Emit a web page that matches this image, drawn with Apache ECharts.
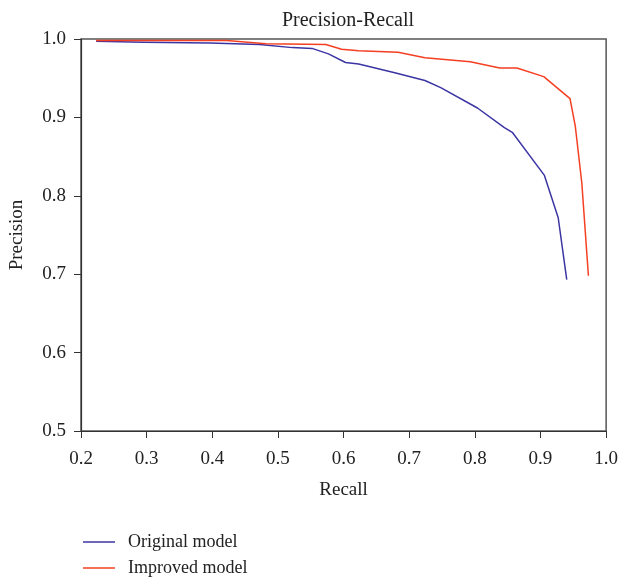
<!DOCTYPE html>
<html>
<head>
<meta charset="utf-8">
<script src="https://cdn.jsdelivr.net/npm/echarts@6/dist/echarts.min.js"></script>
<style>
  html, body { margin: 0; padding: 0; background: #fff; }
  #chart { width: 621px; height: 578px; }
</style>
</head>
<body>
<div id="chart"></div>
<script>
// recall / precision pairs
const originalRecall = [0.223, 0.295, 0.396, 0.472, 0.522, 0.552, 0.577, 0.603, 0.623, 0.678, 0.724, 0.748, 0.804, 0.845, 0.857, 0.906, 0.927, 0.940];
const originalPrecision = [0.997, 0.996, 0.995, 0.993, 0.989, 0.988, 0.981, 0.970, 0.968, 0.957, 0.947, 0.938, 0.912, 0.887, 0.881, 0.826, 0.772, 0.693];

const improvedRecall = [0.223, 0.422, 0.482, 0.573, 0.597, 0.623, 0.683, 0.724, 0.793, 0.838, 0.864, 0.905, 0.945, 0.953, 0.963, 0.973];
const improvedPrecision = [0.998, 0.998, 0.994, 0.993, 0.987, 0.985, 0.983, 0.976, 0.971, 0.963, 0.963, 0.952, 0.924, 0.889, 0.816, 0.698];

const seriesNames = ["Original model", "Improved model"];
const seriesColors = ["#3b35a3", "#f53f22"];

function pairs(xs, ys) {
  return xs.map((x, i) => [x, ys[i]]);
}

let dom = document.getElementById("chart");
let myChart = echarts.init(dom, null, { renderer: "canvas" });

const serif = "Liberation Serif";
const axisText = { color: "#222", fontFamily: serif, fontSize: 19 };

// one legend per row, stacked under the chart
function legendRow(name, top) {
  return {
    left: 78,
    top: top,
    icon: "rect",
    itemWidth: 32,
    itemHeight: 1.5,
    textStyle: { color: "#222", fontFamily: serif, fontSize: 18, padding: [0, 0, 0, 8] },
    data: [name],
  };
}

let option = {
  animation: false,
  title: {
    text: "Precision-Recall",
    left: 343,
    textAlign: "center",
    top: 6,
    textStyle: { color: "#222", fontFamily: serif, fontSize: 20, fontWeight: "normal" },
  },
  grid: {
    left: 80,
    right: 14,
    top: 39,
    bottom: 147,
    show: true,
    borderColor: "#555",
    borderWidth: 1.5,
  },
  legend: [legendRow(seriesNames[0], 528), legendRow(seriesNames[1], 554)],
  xAxis: {
    type: "value",
    min: 0.2,
    max: 1.0,
    interval: 0.1,
    name: "Recall",
    nameLocation: "middle",
    nameGap: 50,
    nameTextStyle: axisText,
    axisLine: { lineStyle: { color: "#333", width: 1.2 } },
    axisTick: { length: 7, lineStyle: { color: "#333" } },
    axisLabel: Object.assign({ margin: 19, formatter: (v) => v.toFixed(1) }, axisText),
    splitLine: { show: false },
  },
  yAxis: {
    type: "value",
    min: 0.5,
    max: 1.0,
    interval: 0.1,
    name: "Precision",
    nameLocation: "middle",
    nameGap: 54,
    nameTextStyle: axisText,
    axisLine: { show: true, lineStyle: { color: "#333", width: 1.2 } },
    axisTick: { show: true, length: 7, lineStyle: { color: "#333" } },
    axisLabel: Object.assign({ margin: 15, formatter: (v) => v.toFixed(1) }, axisText),
    splitLine: { show: false },
  },
  series: [
    {
      name: seriesNames[0],
      type: "line",
      symbol: "none",
      data: pairs(originalRecall, originalPrecision),
      lineStyle: { color: seriesColors[0], width: 1.5 },
      itemStyle: { color: seriesColors[0] },
    },
    {
      name: seriesNames[1],
      type: "line",
      symbol: "none",
      data: pairs(improvedRecall, improvedPrecision),
      lineStyle: { color: seriesColors[1], width: 1.5 },
      itemStyle: { color: seriesColors[1] },
    },
  ],
};

myChart.setOption(option);

window.addEventListener("resize", function () {
  if (myChart) {
    myChart.resize();
  }
});
</script>
</body>
</html>
